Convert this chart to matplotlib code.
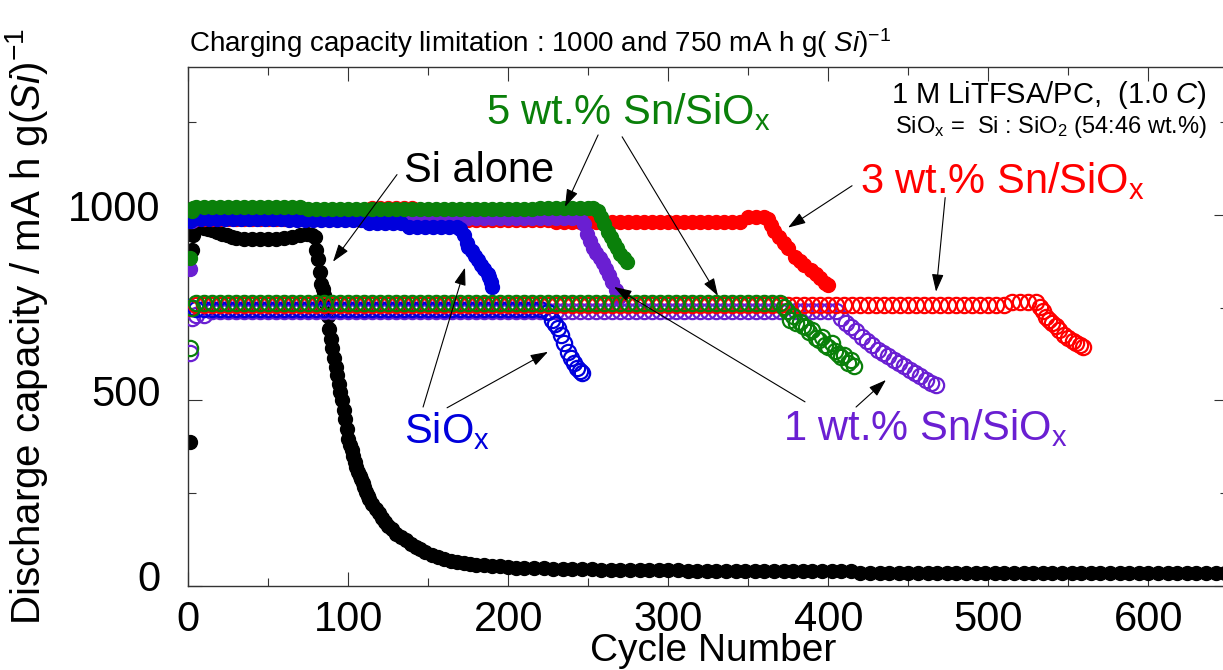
import matplotlib
matplotlib.use('Agg')
import matplotlib.pyplot as plt
import matplotlib.transforms as mtransforms
import numpy as np

plt.rcParams['font.family'] = ['Liberation Sans', 'DejaVu Sans']
plt.rcParams['mathtext.fontset'] = 'custom'
plt.rcParams['mathtext.rm'] = 'Liberation Sans'
plt.rcParams['mathtext.it'] = 'Liberation Sans:italic'
plt.rcParams['mathtext.bf'] = 'Liberation Sans:bold'

# ---- data (cycle number, discharge capacity) ----
# 1000 mA h/g limitation -> filled symbols
si_cycles = np.r_[[1, 2, 3, 4, 6, 8, 10, 12, 15, 18, 21, 24, 27, 30, 35, 40, 45, 50, 55, 60, 65, 70, 74, 77, 79],
                  80:114,
                  [115, 117, 119, 121, 123, 125, 127, 130, 133, 136, 139, 142, 145, 148, 152, 156, 160, 164,
                   168, 172, 176, 180, 185, 190, 195, 200, 205],
                  210:651:6]
si_vals = [389, 906, 945, 962, 968, 970, 966, 963, 960, 955, 950, 945, 940, 937, 935, 934, 934, 935, 936, 938,
           942, 946, 948, 946, 940,
           906, 880, 845, 815, 800, 785, 762, 728, 692, 665, 640, 615, 590, 568, 545, 523, 500, 475, 450, 422,
           395, 380, 366, 350, 335, 320, 308, 297, 287, 277, 265, 254, 243, 233,
           220, 208, 196, 184, 171, 160, 152, 140, 132, 124, 113, 105, 98, 92, 84, 78, 72, 68, 64, 61, 59, 57,
           55, 54, 52, 51, 49,
           48, 47, 47, 46, 45, 45, 44, 44, 43, 43, 43, 42, 42, 42, 42, 42, 42, 41, 41, 41, 41, 41, 41, 41, 41,
           41, 40, 40, 40, 40, 40, 40, 40, 40, 40,
           35, 35, 35, 35, 35, 35, 35, 35, 34, 34, 34, 34, 34, 34, 34, 34, 34, 34, 34, 34, 34, 34, 34,
           33, 33, 33, 33, 33, 33, 33, 33, 33, 33, 33, 33, 33, 33, 33, 33]

sn5_cycles = np.r_[[1, 2, 3], 5:251:5, [253, 256, 258, 260, 262, 264, 266, 268, 270, 272, 274]]
sn5_vals = [885, 1010, 1020,
            1021, 1021, 1021, 1021, 1021, 1021, 1021, 1021, 1021, 1021, 1021, 1021, 1021, 1021,
            1017, 1017, 1017, 1017, 1017, 1017, 1017, 1017, 1017, 1017, 1017, 1017, 1017, 1017, 1017,
            1017, 1017, 1017, 1017, 1017, 1017, 1017, 1017, 1017, 1017, 1017, 1017, 1017, 1017,
            1019, 1019, 1019, 1019, 1019, 1019, 1019,
            1018, 1012, 995, 975, 955, 940, 925, 910, 895, 885, 872]

sn1_cycles = np.r_[[1, 2], 5:246:5, [247, 249, 251, 253, 255, 257, 259, 261, 263, 265, 267, 269]]
sn1_vals = [855, 985,
            1000, 1000, 1000, 1000, 1020, 1000, 1000, 1000, 1000, 1000, 1000, 1000,
            992, 992, 992, 992, 992, 992, 992, 992, 992, 992, 992, 992, 992, 992, 992, 992, 992, 992, 992,
            992, 992, 992, 992, 992, 992, 992, 992, 992, 992, 992, 992, 992, 992, 992, 992, 992, 992,
            975, 950, 930, 912, 898, 885, 870, 855, 838, 818, 798, 780]

siox_cycles = np.r_[[1], 3:169:5, [170, 172, 174, 175, 177, 179, 181, 183, 185, 187, 188, 189, 190]]
siox_vals = [985,
             990, 990, 990, 990, 990, 990, 990, 990, 990, 990, 990, 990,
             986, 986, 986, 986, 986, 986, 986, 986, 986, 986,
             978, 978, 978, 978, 978,
             968, 968, 968, 968, 968, 968, 968,
             962, 945, 925, 914, 902, 890, 878, 866, 855, 842, 833, 820, 806]

sn3_cycles = np.r_[[1], 5:361:5, [362, 364, 366, 369, 372, 375, 379, 382, 385, 389, 392, 395, 398, 400]]
sn3_vals = [985,
            988, 988, 988, 988, 988, 988, 988, 988, 988, 988, 988, 988, 988, 988, 988, 988, 988, 988, 988,
            988, 988, 988,
            1018, 1018, 1018, 1018, 1018, 1018,
            1006, 1006, 1006, 1006,
            986, 986, 986, 986, 986, 986, 986, 986, 986, 986, 986, 986, 986,
            980, 980, 980, 980, 980, 980, 980, 980, 980, 980, 980, 980, 980, 980, 980, 980, 980, 980, 980,
            980, 980, 980, 980, 980,
            995, 995, 995,
            990, 972, 956, 941, 925, 910, 887, 876, 865, 852, 840, 829, 817, 810]

# 750 mA h/g limitation -> open symbols
sn5_750_cycles = np.r_[[1, 2], 5:371:5, 372:417:2]
sn5_750_vals = [642, 748,
                762, 762, 762, 762, 762, 762, 762, 762, 762, 762, 762, 762, 762, 762, 762, 762, 762, 762,
                762, 762, 762, 762, 762, 762, 762, 762, 762, 762, 762, 762, 762, 762, 762, 762, 762, 762,
                762, 762, 762, 762, 762, 762, 762, 762, 762, 762, 762, 762, 762, 762, 762, 762, 762, 762,
                762, 762, 762, 762, 762, 762, 762, 762, 762, 762, 762, 762, 762, 762, 762, 762, 762, 762,
                762, 762,
                752, 740, 716, 728, 708, 712, 700, 698, 684, 690, 668, 663, 672, 650, 645, 655, 632, 625,
                617, 622, 600, 608, 592]

sn1_750_cycles = np.r_[[1, 2], 5:406:5, [408, 411, 414, 417, 421, 424, 427, 431, 434, 437, 441, 444, 447,
                                          451, 454, 457, 461, 464, 467]]
sn1_750_vals = [628, 722, 730, 730,
                740, 740, 740, 740, 740, 740, 740, 740, 740, 740, 740, 740, 740, 740, 740, 740, 740, 740,
                740, 740, 740, 740, 740, 740, 740, 740, 740, 740, 740, 740, 740, 740, 740, 740, 740, 740,
                740, 740, 740, 740, 740, 740, 740, 740, 740, 740, 740, 740, 740, 740, 740, 740, 740, 740,
                740, 740, 740, 740, 740, 740, 740, 740, 740, 740, 740, 740, 740, 740, 740, 740, 740, 740,
                740, 740, 740, 740, 740, 740, 740,
                722, 708, 697, 686, 671, 660, 650, 636, 628, 620, 609, 600, 592, 582, 574, 566, 555, 548, 542]

siox_750_cycles = np.r_[[1, 2], 5:226:5, [227, 229, 231, 233, 235, 237, 239, 241, 243, 245, 246]]
siox_750_vals = [752, 748,
                 747, 747, 747, 747, 747, 747, 747, 747, 747, 747, 747, 747, 747, 747, 747, 747, 747, 747,
                 747, 747, 747, 747, 747, 747, 747, 747, 747, 747, 747, 747, 747, 747, 747, 747, 747, 747,
                 747, 747, 747, 747, 747, 747, 747, 747, 738,
                 718, 706, 694, 675, 655, 630, 615, 600, 588, 578, 573]

sn3_750_cycles = np.r_[[1], 5:531:5, [532, 534, 536, 538, 540, 542, 544, 547, 550, 553, 555, 557, 559]]
sn3_750_vals = [750,
                757, 757, 757, 757, 757, 757, 757, 757, 757, 757, 757, 757, 757, 757, 757, 757, 757, 757,
                757, 757, 757, 757, 757, 757, 757, 757, 757, 757, 757, 757, 757, 757, 757, 757, 757, 757,
                757, 757, 757, 757, 757, 757, 757, 757, 757, 757, 757, 757, 757, 757, 757, 757, 757, 757,
                757, 757, 757, 757, 757, 757, 757, 757, 757, 757, 757, 757, 757, 757, 757, 757, 757, 757,
                757, 757, 757, 757, 757, 757, 757, 757, 757, 757, 757, 757, 757, 757, 757, 757, 757, 757,
                757, 757, 757, 757, 757, 757, 757, 757, 757, 757, 757, 757,
                764, 764, 764, 764,
                752, 740, 726, 716, 709, 700, 690, 677, 668, 660, 655, 650, 645]

BLACK = '#000000'
GREEN = '#0a800a'
RED = '#ff0000'
BLUE = '#0000dc'
PURPLE = '#6a1fd2'

fig = plt.figure(figsize=(12.23, 6.70), dpi=100)
ax = fig.add_axes([0.154, 0.1258, 0.8504, 0.7746])

filled_ms = 10
open_ms = 11

ax.plot(si_cycles, si_vals, 'o', ms=filled_ms, color=BLACK, zorder=2)
ax.plot(sn3_cycles, sn3_vals, 'o', ms=filled_ms, color=RED, zorder=3)
ax.plot(sn1_cycles, sn1_vals, 'o', ms=filled_ms, color=PURPLE, zorder=4)
ax.plot(siox_cycles, siox_vals, 'o', ms=filled_ms, color=BLUE, zorder=5)
ax.plot(sn5_cycles, sn5_vals, 'o', ms=filled_ms, color=GREEN, zorder=6)

for c, v, col, z in [(sn1_750_cycles, sn1_750_vals, PURPLE, 7),
                     (siox_750_cycles, siox_750_vals, BLUE, 8),
                     (sn3_750_cycles, sn3_750_vals, RED, 9),
                     (sn5_750_cycles, sn5_750_vals, GREEN, 10)]:
    ax.plot(c, v, 'o', ms=open_ms, mfc='none', mec=col, mew=1.6, zorder=z)

ax.set_xlim(0, 650)
ax.set_ylim(0, 1400)
ax.set_xticks(np.arange(0, 601, 100))
ax.set_xticks(np.arange(50, 651, 100), minor=True)
ax.set_yticks([0, 500, 1000])
ax.set_yticks([250, 750, 1250], minor=True)
ax.tick_params(which='both', direction='in', top=True, right=True, width=0.8, color='#333333')
ax.tick_params(which='major', length=10)
ax.tick_params(which='minor', length=5.5)
ax.tick_params(axis='x', which='major', labelsize=30, pad=10)
ax.tick_params(axis='y', which='major', labelsize=30, pad=20)
for sp in ax.spines.values():
    sp.set_linewidth(1.0)
    sp.set_color('#333333')

shift = mtransforms.ScaledTranslation(0, 7 / 72, fig.dpi_scale_trans)
for t in ax.yaxis.get_major_ticks():
    t.label1.set_transform(t.label1.get_transform() + shift)

ax.set_xlabel('Cycle Number', fontsize=28)
ax.xaxis.set_label_coords(0.505, -0.092)
ax.set_ylabel(r'Discharge capacity / mA h g($\mathit{Si}$)$^{-1}$', fontsize=29)
ax.yaxis.set_label_coords(-0.133, 0.5)

fig.text(189 / 1223, 1 - 52 / 670,
         r'Charging capacity limitation : 1000 and 750 mA h g( $\mathit{Si}$)$^{-1}$',
         fontsize=20, va='baseline', ha='left')

ax.text(636.6, 1303, r'1 M LiTFSA/PC,  (1.0 $\mathit{C}$)', fontsize=21, ha='right', va='baseline')
ax.text(636.6, 1222, r'SiO$_\mathrm{x}$ =  Si : SiO$_2$ (54:46 wt.%)', fontsize=17, ha='right', va='baseline')

ax.text(181.7, 1090, 'Si alone', fontsize=30, ha='center', va='baseline', color=BLACK)
ax.text(275.4, 1244, r'5 wt.% Sn/SiO$_\mathrm{x}$', fontsize=30, ha='center', va='baseline', color=GREEN)
ax.text(509, 1060, r'3 wt.% Sn/SiO$_\mathrm{x}$', fontsize=30, ha='center', va='baseline', color=RED)
ax.text(161.7, 385, r'SiO$_\mathrm{x}$', fontsize=30, ha='center', va='baseline', color=BLUE)
ax.text(460.4, 393, r'1 wt.% Sn/SiO$_\mathrm{x}$', fontsize=30, ha='center', va='baseline', color=PURPLE)

arrow = dict(arrowstyle='-|>,head_length=0.6,head_width=0.2', color='black', lw=0.8,
             shrinkA=0, shrinkB=0, mutation_scale=18)
for (x0, y0), (x1, y1) in [((130.4, 1109), (90.4, 874)),
                           ((256.1, 1216), (235.4, 1022)),
                           ((271.1, 1211), (331, 782)),
                           ((414.8, 1079), (374.8, 966)),
                           ((473, 1047), (467.3, 793)),
                           ((146.7, 482), (172.9, 858)),
                           ((161.7, 480), (224.8, 631)),
                           ((385.4, 496), (266.1, 806)),
                           ((417.3, 482), (436, 555))]:
    ax.annotate('', xy=(x1, y1), xytext=(x0, y0), arrowprops=arrow, zorder=20)

fig.savefig('out.png', dpi=100)
